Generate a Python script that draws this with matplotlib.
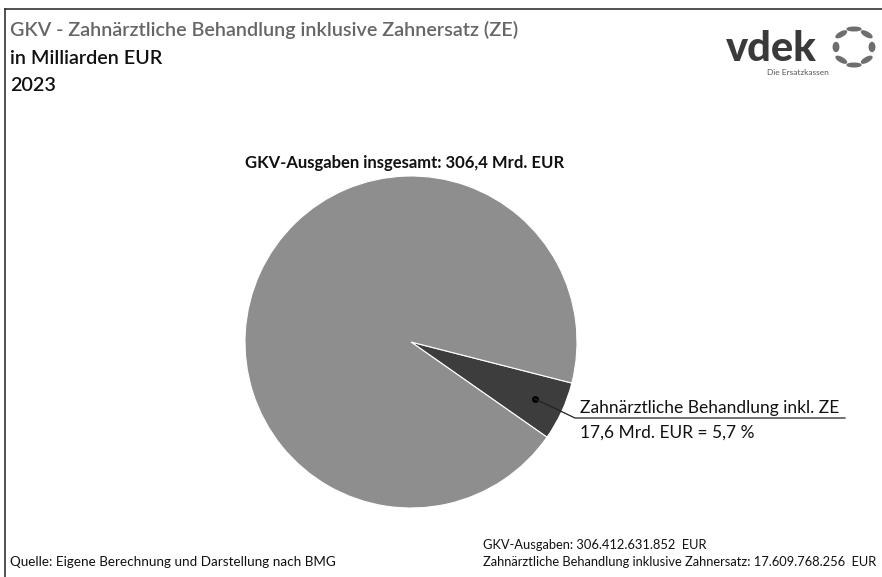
import matplotlib
matplotlib.use("Agg")
import matplotlib.pyplot as plt
import numpy as np
from matplotlib.lines import Line2D
from matplotlib.patches import Ellipse

# Daten (Mrd. EUR, 2023)
labels = ["Zahnärztliche Behandlung inkl. ZE", "Übrige GKV-Ausgaben"]
total = 306.4
zahn = 17.6
values = [zahn, total - zahn]
colors = ["#3d3d3d", "#8e8e8e"]

W, H = 882, 577
plt.rcParams['font.family'] = ['Lato', 'DejaVu Sans']


def fx(px):
    return px / W


def fy(py):
    return 1 - py / H


fig = plt.figure(figsize=(W / 100, H / 100), dpi=100)
fig.patch.set_facecolor("white")

# Rahmen oben und links
fig.add_artist(Line2D([fx(5), 1], [fy(9), fy(9)], color="#333333", lw=1.2))
fig.add_artist(Line2D([fx(5), fx(5)], [fy(9), 0], color="#333333", lw=1.2))

# Kreisdiagramm
cx, cy, r = 411, 342, 166
ax = fig.add_axes([fx(cx - r), fy(cy + r), 2 * r / W, 2 * r / H])
wedges, _ = ax.pie(values, colors=colors, startangle=-35, counterclock=True,
                   wedgeprops=dict(edgecolor="white", linewidth=0.8))
ax.set_xlim(-1, 1)
ax.set_ylim(-1, 1)
ax.set_aspect("equal")
ax.axis("off")

# Beschriftung des kleinen Segments
w = wedges[0]
mid = np.deg2rad((w.theta1 + w.theta2) / 2)
dx, dy = 0.82 * np.cos(mid), 0.82 * np.sin(mid)
ax.plot([dx], [dy], "o", color="black", ms=4, clip_on=False)
kx, ky = (575 - cx) / r, (cy - 418) / r
ex = (845 - cx) / r
ax.plot([dx, kx, ex], [dy, ky, ky], color="#222222", lw=0.9, clip_on=False)
fig.text(fx(580), fy(413), labels[0], fontsize=12.5, color="#111111", va="baseline")
fig.text(fx(580), fy(438), "17,6 Mrd. EUR = 5,7 %", fontsize=12.5, color="#111111",
         va="baseline")

fig.text(fx(405), fy(163), "GKV-Ausgaben insgesamt: 306,4 Mrd. EUR", fontsize=12,
         fontweight="bold", color="#111111", ha="center", va="center")

# Titel
fig.text(fx(10), fy(36), "GKV - Zahnärztliche Behandlung inklusive Zahnersatz (ZE)",
         fontsize=14.2, fontweight="semibold", color="#666666", va="baseline")
fig.text(fx(10), fy(64), "in Milliarden EUR", fontsize=14.2, fontweight="semibold",
         color="#111111", va="baseline")
fig.text(fx(10), fy(91), "2023", fontsize=14.2, fontweight="semibold", color="#111111",
         va="baseline")

# Logo
fig.text(fx(726), fy(61), "vdek", fontsize=30, fontweight="black", color="#3a3a3a",
         va="baseline")
fig.text(fx(829), fy(75), "Die Ersatzkassen", fontsize=6, color="#555555",
         ha="right", va="baseline")
lx, ly, lr = 854, 47, 18
for a in np.arange(0, 360, 45):
    t = np.deg2rad(a)
    e = Ellipse((fx(lx + lr * np.cos(t)), fy(ly - lr * np.sin(t))),
                width=5.5 / W, height=9 / H, angle=a,
                color="#6e6e6e", transform=fig.transFigure)
    fig.add_artist(e)

# Fußzeile
foot = dict(fontsize=9.3, color="#111111", va="baseline")
fig.text(fx(10), fy(566), "Quelle: Eigene Berechnung und Darstellung nach BMG",
         **dict(foot, fontsize=9.7))
fig.text(fx(483), fy(549), "GKV-Ausgaben: 306.412.631.852  EUR", **foot)
fig.text(fx(483), fy(566), "Zahnärztliche Behandlung inklusive Zahnersatz: 17.609.768.256  EUR",
         **foot)

fig.savefig("out.png", dpi=100)
